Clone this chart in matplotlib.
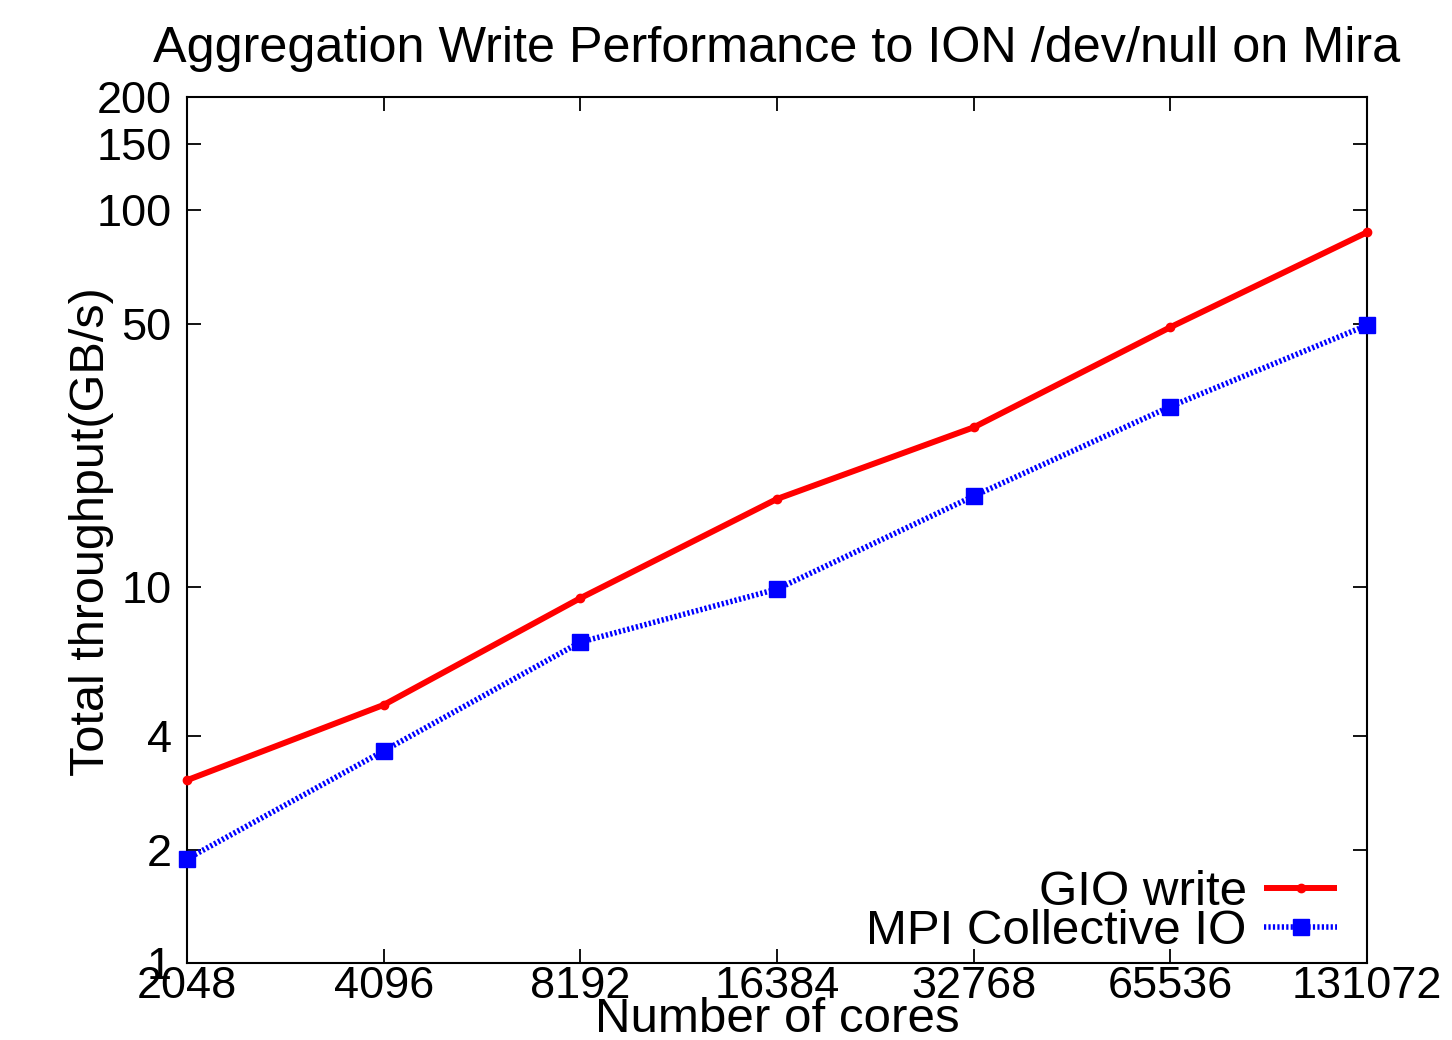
import matplotlib
matplotlib.use("Agg")
import matplotlib.pyplot as plt
from matplotlib.ticker import FixedLocator, FixedFormatter, NullLocator

plt.rcParams['font.family'] = ['Liberation Sans', 'DejaVu Sans']

cores = [2048, 4096, 8192, 16384, 32768, 65536, 131072]
core_labels = ["2048", "4096", "8192", "16384", "32768", "65536", "131072"]
gio_write = [3.06, 4.85, 9.32, 17.1, 26.5, 48.9, 87.4]
mpi_collective = [1.89, 3.66, 7.12, 9.85, 17.4, 30.1, 49.5]
y_ticks = [1, 2, 4, 10, 50, 100, 150, 200]
y_tick_labels = ["1", "2", "4", "10", "50", "100", "150", "200"]

W, H = 1452, 1040
L, R, T, B = 187, 1367, 97, 963
fig = plt.figure(figsize=(W/100, H/100), dpi=100)
ax = fig.add_axes([L/W, 1 - B/H, (R-L)/W, (B-T)/H])

def ax_x(px):
    return (px - L) / (R - L)

def ax_y(py):
    return (B - py) / (B - T)

ax.plot(cores, gio_write, color='#ff0000', linewidth=4.3, marker='o', markersize=6,
        label='GIO write', solid_capstyle='butt', clip_on=False, zorder=3)
ax.plot(cores, mpi_collective, color='#0000ff', linewidth=4.0, linestyle=(0, (0.4, 0.4)),
        marker='s', markersize=11.5, label='MPI Collective IO', clip_on=False, zorder=3)

ax.set_xscale('log', base=2)
ax.set_yscale('log')
ax.set_xlim(2048, 131072)
ax.set_ylim(1, 200)

ax.xaxis.set_major_locator(FixedLocator(cores))
ax.xaxis.set_major_formatter(FixedFormatter(core_labels))
ax.xaxis.set_minor_locator(NullLocator())
ax.yaxis.set_major_locator(FixedLocator(y_ticks))
ax.yaxis.set_major_formatter(FixedFormatter(y_tick_labels))
ax.yaxis.set_minor_locator(NullLocator())

ax.tick_params(axis='both', which='major', direction='in', length=10, width=1.3,
               labelsize=32.5, top=True, right=True)
ax.tick_params(axis='x', pad=2)
ax.tick_params(axis='y', pad=11)
for s in ax.spines.values():
    s.set_linewidth(1.5)

ax.set_title('Aggregation Write Performance to ION /dev/null on Mira', fontsize=36.3,
             y=ax_y(70), va='baseline')
ax.set_xlabel('Number of cores', fontsize=35.5)
ax.xaxis.label.set_va('baseline')
ax.xaxis.set_label_coords(0.5, ax_y(1032))
ax.set_ylabel('Total throughput(GB/s)', fontsize=35)
ax.yaxis.label.set_va('baseline')
ax.yaxis.set_label_coords(ax_x(104), ax_y(532))

leg = ax.legend(loc='lower right', frameon=False, markerfirst=False, fontsize=35.5,
                handlelength=1.48, handletextpad=0.35, labelspacing=-0.13,
                borderpad=0, borderaxespad=0,
                bbox_to_anchor=(ax_x(1337), ax_y(954)))
for t in leg.get_texts():
    t.set_ha('right')

fig.savefig('out.png', dpi=100)
